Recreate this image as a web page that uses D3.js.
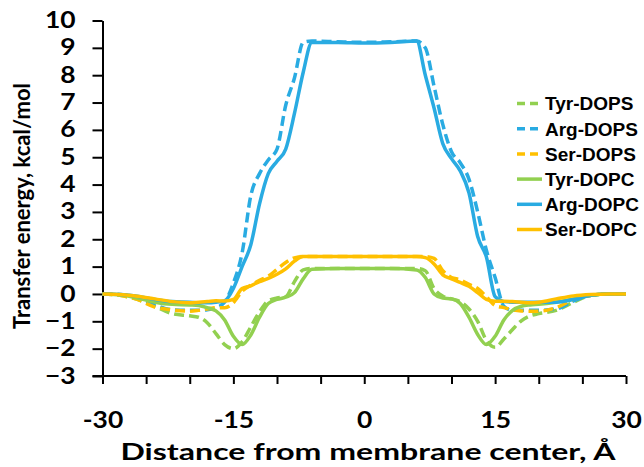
<!DOCTYPE html>
<html>
<head>
<meta charset="utf-8">
<script src="https://cdn.jsdelivr.net/npm/d3@7"></script>
<style>
	body { margin: 0; background: #fff; }
	svg { display: block; }
</style>
</head>
<body>
<svg id="chart" width="644" height="467"></svg>
<script>

// distance from membrane center, A
var dist = [ -30, -28, -26, -24, -22, -20, -19, -18, -17, -16, -15, -14, -13, -12, -11, -10, -9, -8, -7, -6,
	-3, 0, 3,
	6, 7, 8, 9, 10, 11, 12, 13, 14, 15, 16, 17, 18, 19, 20, 22, 24, 26, 28, 30 ];

var tyrDOPS = [ 0, -0.05, -0.2, -0.45, -0.72, -0.8, -0.85, -1.05, -1.45, -1.85, -2.0, -1.75, -1.2, -0.65, -0.25, -0.15, -0.1, 0.45, 0.88, 0.93,
	0.93, 0.93, 0.93,
	0.93, 0.85, 0.2, -0.08, -0.18, -0.28, -0.55, -1.0, -1.7, -1.95, -1.65, -1.3, -0.98, -0.8, -0.72, -0.6, -0.3, -0.05, 0, 0 ];

var argDOPS = [ 0, -0.02, -0.12, -0.4, -0.58, -0.6, -0.6, -0.58, -0.5, -0.3, 0.4, 1.5, 3.6, 4.4, 4.9, 5.3, 6.9, 7.9, 9.2, 9.25,
	9.22, 9.2, 9.22,
	9.25, 9.0, 7.6, 6.2, 5.2, 4.8, 4.2, 3.0, 1.6, 0.6, -0.45, -0.6, -0.6, -0.6, -0.6, -0.55, -0.25, -0.05, 0, 0 ];

var serDOPS = [ 0, -0.05, -0.2, -0.48, -0.58, -0.63, -0.6, -0.55, -0.5, -0.5, -0.32, 0.1, 0.32, 0.5, 0.65, 0.9, 1.15, 1.32, 1.37, 1.37,
	1.37, 1.37, 1.37,
	1.37, 1.37, 1.3, 0.85, 0.6, 0.52, 0.35, 0.2, -0.1, -0.42, -0.5, -0.58, -0.62, -0.63, -0.63, -0.5, -0.2, -0.05, 0, 0 ];

var tyrDOPC = [ 0, -0.03, -0.15, -0.3, -0.38, -0.4, -0.42, -0.5, -0.62, -0.95, -1.55, -1.85, -1.5, -0.85, -0.35, -0.2, -0.12, 0.05, 0.55, 0.9,
	0.93, 0.93, 0.93,
	0.88, 0.6, 0.0, -0.15, -0.18, -0.35, -0.85, -1.48, -1.85, -1.55, -0.95, -0.6, -0.45, -0.4, -0.38, -0.3, -0.18, -0.05, 0, 0 ];

var argDOPC = [ 0, -0.02, -0.08, -0.2, -0.28, -0.3, -0.32, -0.32, -0.3, -0.25, 0.2, 1.0, 1.8, 3.3, 4.4, 4.85, 5.3, 6.6, 8.1, 9.2,
	9.2, 9.18, 9.2,
	9.25, 8.0, 6.8, 5.5, 4.95, 4.5, 3.7, 2.1, 1.35, -0.1, -0.28, -0.3, -0.3, -0.3, -0.3, -0.3, -0.2, -0.05, 0, 0 ];

var serDOPC = [ 0, -0.02, -0.08, -0.18, -0.28, -0.32, -0.3, -0.28, -0.25, -0.26, -0.2, 0.2, 0.3, 0.45, 0.57, 0.72, 0.92, 1.2, 1.37, 1.37,
	1.37, 1.37, 1.37,
	1.37, 1.33, 1.1, 0.7, 0.55, 0.42, 0.28, 0.05, -0.2, -0.27, -0.27, -0.28, -0.3, -0.32, -0.3, -0.18, -0.07, -0.02, 0, 0 ];

var names = [ "Tyr-DOPS", "Arg-DOPS", "Ser-DOPS", "Tyr-DOPC", "Arg-DOPC", "Ser-DOPC" ];
var values = [ tyrDOPS, argDOPS, serDOPS, tyrDOPC, argDOPC, serDOPC ];

var xTicks = [ -30, -25, -20, -15, -10, -5, 0, 5, 10, 15, 20, 25, 30 ];
var xLabels = [ -30, -15, 0, 15, 30 ];
var yTicks = [ -3, -2, -1, 0, 1, 2, 3, 4, 5, 6, 7, 8, 9, 10 ];

var colour = {
	Tyr: "#92d050",
	Arg: "#29abe2",
	Ser: "#ffc000"
};

var axisFont = "Lato, 'Open Sans', sans-serif";
var legendFont = "'Liberation Sans', Arial, sans-serif";

var svg = d3.select("#chart");

var x = d3.scaleLinear().domain([ -30, 30 ]).range([ 102.5, 626 ]);
var y = d3.scaleLinear().domain([ -3, 10 ]).range([ 376, 20.5 ]);

// the original figure is stretched sideways, so widen the glyphs a bit
function widen(sel, k)	{

	sel.each(function()	{
		var w = this.getComputedTextLength();
		if(w > 0)
			d3.select(this)
				.attr("textLength", w * k)
				.attr("lengthAdjust", "spacingAndGlyphs");
	});

}

function drawaxes()	{

	var xAxis = d3.axisBottom(x)
		.tickValues(xTicks)
		.tickSize(8)
		.tickSizeOuter(0)
		.tickFormat( d => xLabels.includes(d) ? d : "" );

	var yAxis = d3.axisLeft(y)
		.tickValues(yTicks)
		.tickSize(10)
		.tickSizeOuter(0);

	var gx = svg.append("g")
		.attr("transform", `translate(0,${y(-3)})`)
		.call(xAxis);

	gx.select(".domain")
		.attr("d", `M${x(-30) - 10},0H${x(30)}`);

	gx.selectAll("text")
		.attr("y", 36)
		.attr("dy", "0.71em");

	var gy = svg.append("g")
		.attr("transform", `translate(${x(-30)},0)`)
		.call(yAxis);

	gy.selectAll("text")
		.attr("x", -27);

	svg.selectAll(".domain, .tick line")
		.attr("stroke", "#000")
		.attr("stroke-width", 2);

	svg.selectAll(".tick text")
		.attr("fill", "#000")
		.attr("font-family", axisFont)
		.attr("font-weight", "bold")
		.attr("font-size", 22);

	widen(svg.selectAll(".tick text"), 1.2);

	svg.append("text")
		.attr("x", 368)
		.attr("y", 460)
		.attr("text-anchor", "middle")
		.attr("font-family", axisFont)
		.attr("font-weight", "bold")
		.attr("font-size", 23)
		.attr("textLength", 495)
		.attr("lengthAdjust", "spacingAndGlyphs")
		.text("Distance from membrane center, Å");

	svg.append("text")
		.attr("transform", "translate(30,206) rotate(-90)")
		.attr("text-anchor", "middle")
		.attr("font-family", axisFont)
		.attr("font-weight", "bold")
		.attr("font-size", 22)
		.text("Transfer energy, kcal/mol");

}

function drawlines()	{

	var line = d3.line()
		.x( (d, i) => x(dist[i]) )
		.y( d => y(d) )
		.curve(d3.curveMonotoneX);

	names.forEach( (n, k) => {

		svg.append("path")
			.datum(values[k])
			.attr("d", line)
			.attr("fill", "none")
			.attr("stroke", colour[n.slice(0, 3)])
			.attr("stroke-width", 3.5)
			.attr("stroke-linejoin", "round")
			.attr("stroke-dasharray", n.endsWith("DOPS") ? "10,5" : null);

	});

}

function drawlegend()	{

	var g = svg.append("g");

	names.forEach( (n, k) => {

		var ly = 103.5 + k * 25.2;

		g.append("line")
			.attr("x1", 517)
			.attr("x2", 542)
			.attr("y1", ly)
			.attr("y2", ly)
			.attr("stroke", colour[n.slice(0, 3)])
			.attr("stroke-width", 3.5)
			.attr("stroke-dasharray", n.endsWith("DOPS") ? "8,5" : null);

		g.append("text")
			.attr("x", 545)
			.attr("y", ly)
			.attr("dy", "0.36em")
			.attr("font-family", legendFont)
			.attr("font-weight", "bold")
			.attr("font-size", 19)
			.attr("fill", "#000")
			.text(n);

	});

}

drawaxes();
drawlines();
drawlegend();

</script>
</body>
</html>
